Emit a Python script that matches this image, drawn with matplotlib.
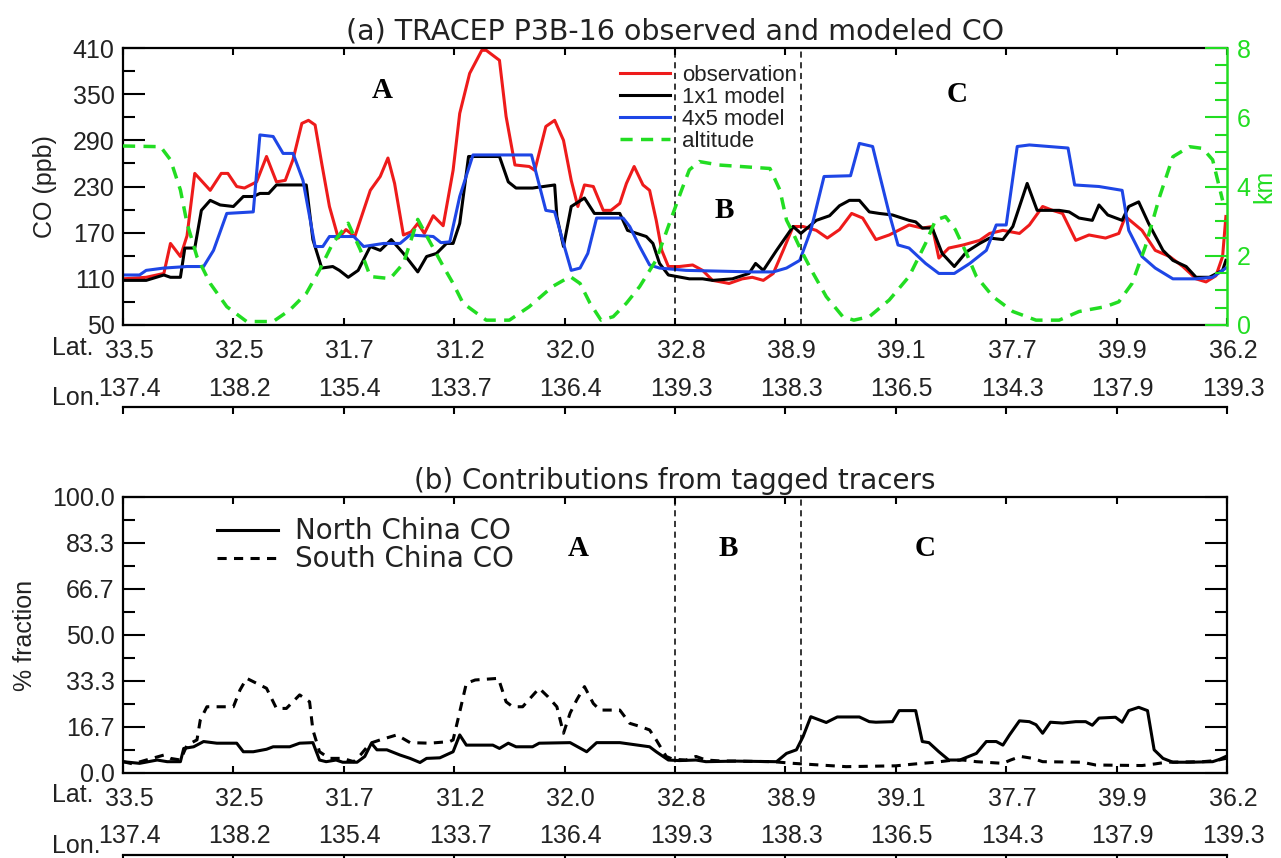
import numpy as np
import matplotlib.pyplot as plt
import matplotlib.transforms as mtransforms
from matplotlib.ticker import FixedLocator, MultipleLocator

plt.rcParams['font.family'] = ['Liberation Sans', 'DejaVu Sans']

# flight track labels, one per tick (track position 0..10)
lat_labels = ['33.5', '32.5', '31.7', '31.2', '32.0', '32.8', '38.9', '39.1', '37.7', '39.9', '36.2']
lon_labels = ['137.4', '138.2', '135.4', '133.7', '136.4', '139.3', '138.3', '136.5', '134.3', '137.9', '139.3']
region_bounds = [5.0, 6.14]

# (track position, CO ppb)
observation = [(0.00, 110), (0.21, 112), (0.37, 117), (0.43, 156), (0.52, 139), (0.58, 166), (0.65, 247),
               (0.79, 225), (0.89, 247), (0.95, 247), (1.03, 230), (1.10, 228), (1.21, 236), (1.30, 269),
               (1.39, 236), (1.47, 238), (1.54, 265), (1.62, 312), (1.68, 316), (1.74, 310), (1.80, 260),
               (1.87, 204), (1.95, 163), (2.02, 174), (2.10, 165), (2.24, 225), (2.33, 243), (2.40, 267),
               (2.46, 234), (2.54, 167), (2.61, 171), (2.67, 182), (2.73, 169), (2.81, 192), (2.90, 179),
               (2.99, 251), (3.05, 325), (3.14, 377), (3.25, 407), (3.29, 407), (3.41, 394), (3.47, 321),
               (3.55, 258), (3.68, 256), (3.73, 251), (3.83, 308), (3.91, 316), (3.99, 290), (4.06, 238),
               (4.12, 204), (4.18, 232), (4.26, 230), (4.35, 199), (4.42, 199), (4.50, 208), (4.56, 234),
               (4.63, 256), (4.71, 232), (4.77, 225), (4.83, 186), (4.88, 147), (4.94, 126), (5.04, 126),
               (5.16, 128), (5.25, 121), (5.34, 108), (5.49, 104), (5.61, 110), (5.70, 112), (5.80, 108),
               (5.89, 117), (5.98, 147), (6.07, 178), (6.16, 178), (6.28, 173), (6.38, 163), (6.49, 174),
               (6.60, 195), (6.70, 189), (6.82, 161), (6.94, 167), (7.12, 180), (7.24, 176), (7.33, 178),
               (7.39, 137), (7.48, 150), (7.61, 154), (7.76, 160), (7.85, 169), (7.97, 173), (8.12, 169),
               (8.21, 180), (8.33, 204), (8.42, 199), (8.51, 195), (8.63, 160), (8.75, 167), (8.90, 163),
               (9.02, 169), (9.08, 191), (9.23, 173), (9.35, 147), (9.48, 139), (9.60, 126), (9.72, 110),
               (9.81, 106), (9.90, 114), (9.96, 139), (9.99, 191)]

model_1x1 = [(0.00, 108), (0.21, 108), (0.37, 115), (0.43, 112), (0.52, 112), (0.56, 150), (0.65, 150),
             (0.71, 199), (0.79, 212), (0.88, 206), (1.00, 204), (1.09, 217), (1.18, 217), (1.24, 221),
             (1.32, 221), (1.39, 232), (1.66, 232), (1.72, 161), (1.80, 124), (1.90, 126), (1.96, 121),
             (2.04, 112), (2.13, 121), (2.24, 152), (2.33, 147), (2.43, 161), (2.54, 143), (2.67, 119),
             (2.75, 139), (2.84, 143), (2.93, 156), (2.99, 156), (3.05, 182), (3.13, 269), (3.41, 269),
             (3.49, 236), (3.56, 228), (3.71, 228), (3.91, 232), (3.93, 191), (3.99, 152), (4.06, 204),
             (4.18, 215), (4.27, 195), (4.50, 195), (4.57, 173), (4.74, 165), (4.80, 156), (4.86, 130),
             (4.94, 115), (5.13, 110), (5.25, 110), (5.34, 108), (5.52, 110), (5.67, 117), (5.73, 130),
             (5.80, 121), (5.92, 147), (6.07, 178), (6.14, 169), (6.28, 186), (6.40, 192), (6.49, 205),
             (6.58, 212), (6.67, 212), (6.76, 197), (6.85, 195), (6.97, 193), (7.12, 186), (7.18, 184),
             (7.24, 176), (7.33, 176), (7.42, 143), (7.53, 126), (7.64, 145), (7.76, 156), (7.85, 163),
             (7.97, 161), (8.06, 178), (8.19, 234), (8.28, 199), (8.39, 199), (8.48, 199), (8.57, 197),
             (8.66, 189), (8.78, 186), (8.84, 206), (8.92, 193), (9.05, 186), (9.11, 204), (9.20, 210),
             (9.29, 182), (9.42, 147), (9.51, 134), (9.63, 126), (9.72, 112), (9.84, 112), (9.96, 121),
             (9.99, 134)]

model_4x5 = [(0.00, 115), (0.15, 115), (0.21, 121), (0.37, 124), (0.58, 126), (0.73, 126), (0.82, 147),
             (0.94, 195), (1.18, 197), (1.24, 297), (1.36, 295), (1.45, 273), (1.54, 273), (1.63, 238),
             (1.74, 152), (1.81, 152), (1.87, 165), (2.09, 165), (2.18, 152), (2.36, 156), (2.51, 156),
             (2.60, 167), (2.81, 165), (2.88, 157), (2.96, 158), (3.05, 217), (3.17, 271), (3.70, 271),
             (3.83, 199), (3.91, 197), (3.99, 156), (4.06, 121), (4.14, 124), (4.21, 143), (4.29, 189),
             (4.53, 189), (4.59, 178), (4.68, 152), (4.77, 128), (4.86, 124), (5.10, 121), (5.70, 119),
             (5.89, 119), (6.01, 124), (6.13, 134), (6.23, 173), (6.35, 243), (6.59, 244), (6.67, 286),
             (6.79, 282), (6.85, 247), (6.94, 195), (7.02, 154), (7.12, 150), (7.27, 130), (7.39, 117),
             (7.53, 117), (7.67, 130), (7.82, 147), (7.91, 180), (8.00, 180), (8.10, 282), (8.21, 284),
             (8.56, 280), (8.62, 232), (8.84, 230), (9.05, 225), (9.11, 173), (9.23, 139), (9.35, 124),
             (9.51, 110), (9.72, 110), (9.87, 112), (9.99, 124)]

# (track position, km)
altitude = [(0.00, 5.17), (0.34, 5.15), (0.43, 4.77), (0.52, 3.90), (0.58, 2.94), (0.67, 1.97), (0.79, 1.20),
            (0.94, 0.53), (1.12, 0.10), (1.36, 0.10), (1.51, 0.43), (1.66, 0.91), (1.78, 1.59), (1.90, 2.36),
            (2.04, 2.94), (2.15, 2.17), (2.24, 1.40), (2.42, 1.34), (2.54, 1.78), (2.67, 3.05), (2.78, 2.40),
            (2.90, 1.70), (2.99, 1.20), (3.08, 0.63), (3.29, 0.14), (3.50, 0.14), (3.68, 0.53), (3.89, 1.11),
            (4.05, 1.40), (4.14, 1.20), (4.23, 0.63), (4.33, 0.14), (4.44, 0.24), (4.56, 0.63), (4.68, 1.11),
            (4.83, 1.88), (4.95, 2.94), (5.06, 3.90), (5.13, 4.48), (5.22, 4.72), (5.40, 4.62), (5.86, 4.52),
            (5.95, 3.90), (6.01, 3.03), (6.07, 2.65), (6.14, 2.17), (6.25, 1.50), (6.37, 0.82), (6.52, 0.24),
            (6.62, 0.14), (6.76, 0.24), (6.94, 0.72), (7.12, 1.40), (7.27, 2.36), (7.36, 3.03), (7.45, 3.13),
            (7.54, 2.75), (7.64, 2.07), (7.73, 1.40), (7.88, 0.82), (8.06, 0.39), (8.27, 0.14), (8.48, 0.14),
            (8.66, 0.39), (8.90, 0.53), (9.02, 0.67), (9.14, 1.20), (9.26, 2.26), (9.39, 3.71), (9.51, 4.86),
            (9.66, 5.15), (9.78, 5.10), (9.87, 4.77), (9.96, 3.60)]

# (track position, % fraction)
north_china = [(0.00, 4.1), (0.15, 3.5), (0.31, 4.7), (0.40, 4.1), (0.52, 4.1), (0.55, 8.9), (0.64, 9.5),
               (0.73, 11.4), (0.85, 10.8), (1.03, 10.8), (1.09, 7.7), (1.18, 7.7), (1.30, 8.6), (1.36, 9.5),
               (1.51, 9.5), (1.60, 10.8), (1.72, 11.0), (1.78, 4.7), (1.84, 4.1), (1.93, 4.7), (1.99, 3.9),
               (2.12, 3.9), (2.19, 6.0), (2.25, 10.8), (2.30, 8.4), (2.39, 8.4), (2.51, 6.5), (2.60, 5.3),
               (2.69, 3.8), (2.75, 5.3), (2.87, 5.5), (2.99, 7.7), (3.05, 13.8), (3.11, 10.1), (3.35, 10.1),
               (3.41, 8.9), (3.49, 10.8), (3.56, 9.5), (3.71, 9.5), (3.77, 10.8), (4.05, 11.0), (4.20, 7.7),
               (4.29, 11.0), (4.50, 11.0), (4.77, 9.5), (4.83, 7.7), (4.94, 4.7), (5.04, 4.5), (5.19, 4.7),
               (5.28, 4.1), (5.55, 4.3), (5.92, 4.1), (6.01, 7.1), (6.10, 8.4), (6.16, 13.2), (6.23, 20.4),
               (6.37, 18.3), (6.47, 20.3), (6.67, 20.3), (6.76, 18.6), (6.82, 18.4), (6.97, 18.6), (7.03, 22.6),
               (7.18, 22.6), (7.24, 11.4), (7.30, 11.0), (7.39, 7.7), (7.48, 4.7), (7.58, 4.7), (7.73, 7.1),
               (7.82, 11.4), (7.91, 11.4), (7.97, 10.1), (8.03, 13.8), (8.12, 18.9), (8.21, 18.6), (8.27, 17.5),
               (8.33, 14.4), (8.40, 18.4), (8.51, 18.1), (8.63, 18.6), (8.72, 18.6), (8.78, 17.3), (8.84, 19.9),
               (8.99, 20.2), (9.05, 18.4), (9.11, 22.6), (9.20, 23.8), (9.28, 22.6), (9.34, 8.4), (9.42, 5.3),
               (9.51, 3.9), (9.66, 3.9), (9.87, 4.1), (9.93, 4.9), (9.99, 6.0)]

south_china = [(0.00, 4.1), (0.09, 3.3), (0.21, 4.7), (0.37, 6.5), (0.43, 5.3), (0.52, 4.7), (0.58, 10.1),
               (0.67, 12.0), (0.70, 19.2), (0.76, 24.0), (1.00, 24.0), (1.06, 30.1), (1.12, 34.3), (1.21, 32.5),
               (1.30, 30.7), (1.39, 23.4), (1.48, 23.4), (1.60, 28.3), (1.69, 25.8), (1.72, 15.6), (1.78, 7.7),
               (1.87, 5.3), (1.99, 5.3), (2.09, 4.1), (2.15, 6.5), (2.24, 10.8), (2.33, 12.0), (2.48, 13.8),
               (2.60, 11.0), (2.78, 10.8), (2.96, 11.4), (2.99, 12.0), (3.04, 20.4), (3.11, 32.5), (3.19, 33.7),
               (3.40, 34.3), (3.47, 25.8), (3.53, 24.0), (3.62, 24.0), (3.70, 27.6), (3.77, 30.7), (3.85, 27.6),
               (3.93, 24.0), (3.99, 14.4), (4.05, 21.7), (4.11, 26.5), (4.18, 31.3), (4.26, 25.2), (4.32, 22.8),
               (4.50, 22.8), (4.59, 18.0), (4.68, 16.9), (4.77, 15.6), (4.83, 12.0), (4.92, 6.0), (4.98, 5.0),
               (5.10, 4.7), (5.19, 6.0), (5.28, 4.7), (5.40, 4.4), (5.89, 4.1), (6.07, 3.5), (6.31, 2.9),
               (6.55, 2.3), (6.70, 2.4), (7.00, 2.6), (7.18, 3.3), (7.36, 3.9), (7.48, 4.5), (7.61, 4.7),
               (7.73, 4.1), (7.97, 3.5), (8.04, 4.7), (8.13, 6.0), (8.24, 5.3), (8.33, 4.1), (8.69, 3.9),
               (8.81, 2.9), (9.23, 2.7), (9.35, 3.3), (9.45, 3.9), (9.78, 4.1), (9.90, 4.5), (9.99, 5.3)]

frac_ticks = [0, 100 / 6, 200 / 6, 50, 400 / 6, 500 / 6, 100]
frac_labels = ['0.0', '16.7', '33.3', '50.0', '66.7', '83.3', '100.0']


def xy(pairs):
    a = np.array(pairs, dtype=float)
    return a[:, 0], a[:, 1]


W, H = 1281, 858
fig = plt.figure(figsize=(W / 100, H / 100), dpi=100)


def box(left, top, right, bottom):
    return [left / W, 1 - bottom / H, (right - left) / W, (bottom - top) / H]


dark = '#222222'
green = '#22dd22'
wide = ['DejaVu Sans']  # titles and lower legend are set wider than the tick labels
ticks = np.arange(len(lat_labels))
shift = mtransforms.ScaledTranslation(6 / 100, 0, fig.dpi_scale_trans)


def track_axis(ax, pad):
    ax.set_xlim(0, 10)
    ax.set_xticks(ticks)
    ax.set_xticklabels(lat_labels)
    ax.tick_params(axis='x', which='major', direction='in', length=5, width=1.5,
                   top=True, pad=pad, labelsize=18, labelcolor=dark)
    for lab in ax.get_xticklabels():
        lab.set_transform(lab.get_transform() + shift)
    for s in ax.spines.values():
        s.set_linewidth(1.6)


def lon_axis(line_px, pad):
    axl = fig.add_axes(box(123, line_px, 1227, line_px + 1))
    axl.patch.set_visible(False)
    axl.set_xlim(0, 10)
    axl.set_yticks([])
    for side in ['left', 'right', 'bottom']:
        axl.spines[side].set_visible(False)
    axl.spines['top'].set_linewidth(1.6)
    axl.set_xticks(ticks)
    axl.set_xticklabels(lon_labels)
    axl.tick_params(axis='x', which='major', direction='in', length=5, width=1.5,
                    top=True, bottom=False, labeltop=True, labelbottom=False,
                    pad=pad, labelsize=18, labelcolor=dark)
    for t in axl.xaxis.get_major_ticks():
        t.label2.set_transform(t.label2.get_transform() + shift)


def side_labels(lat_base, lon_base):
    fig.text(52 / W, 1 - lat_base / H, 'Lat.', ha='left', va='baseline', fontsize=18, color=dark)
    fig.text(52 / W, 1 - lon_base / H, 'Lon.', ha='left', va='baseline', fontsize=18, color=dark)


letter = dict(fontsize=21, fontweight='bold', family='Liberation Serif', ha='center', va='center')

# ---------------- (a) ----------------
ax1 = fig.add_axes(box(123, 48, 1227, 325))
x, y = xy(observation)
l_obs, = ax1.plot(x, y, color='#ee1b1b', lw=2.2, label='observation')
x, y = xy(model_1x1)
l_1x1, = ax1.plot(x, y, color='black', lw=2.2, label='1x1 model')
x, y = xy(model_4x5)
l_4x5, = ax1.plot(x, y, color='#1e46e6', lw=2.2, label='4x5 model')
for b in region_bounds:
    ax1.axvline(b, color='black', lw=1.1, ls=(0, (4, 3)))
ax1.set_ylim(50, 410)
ax1.set_yticks(np.arange(50, 411, 60))
ax1.yaxis.set_minor_locator(FixedLocator(np.arange(80, 410, 60)))
ax1.tick_params(axis='y', which='major', direction='in', length=16, width=1.5, pad=6,
                labelsize=18, labelcolor=dark)
ax1.tick_params(axis='y', which='minor', direction='in', length=8.5, width=1.5)
ax1.spines['right'].set_visible(False)
track_axis(ax1, pad=10)
ax1.set_ylabel('CO (ppb)', fontsize=18, color=dark)
ax1.yaxis.set_label_coords(-0.060, 0.5)
ax1.set_title('(a) TRACEP P3B-16 observed and modeled CO', fontsize=20.5, family=wide,
              color=dark, pad=6)
ax1.text(2.35, 355, 'A', **letter)
ax1.text(5.45, 199, 'B', **letter)
ax1.text(7.56, 349, 'C', **letter)

ax2 = ax1.twinx()
x, y = xy(altitude)
l_alt, = ax2.plot(x, y, color=green, lw=2.5, dashes=(3.5, 2.4), label='altitude')
ax2.set_ylim(0, 8)
ax2.set_yticks([0, 2, 4, 6, 8])
ax2.yaxis.set_minor_locator(MultipleLocator(0.5))
for side in ['left', 'top', 'bottom']:
    ax2.spines[side].set_visible(False)
ax2.spines['right'].set_color(green)
ax2.spines['right'].set_linewidth(1.8)
ax2.tick_params(axis='y', which='major', direction='in', length=16, width=1.5, pad=7,
                labelsize=18, colors=green)
ax2.tick_params(axis='y', which='minor', direction='in', length=8.5, width=1.5, colors=green)
ax2.set_ylabel('km', fontsize=18, color=green)
ax2.yaxis.set_label_coords(1.023, 0.5)
ax2.legend(handles=[l_obs, l_1x1, l_4x5, l_alt], loc='upper left', bbox_to_anchor=(0.45, 0.94),
           frameon=False, fontsize=16, labelspacing=0.05, handlelength=2.25,
           handletextpad=0.55, borderpad=0, borderaxespad=0, labelcolor=dark)

lon_axis(407, pad=4)
side_labels(355, 405)

# ---------------- (b) ----------------
ax3 = fig.add_axes(box(123, 497, 1227, 773))
x, y = xy(north_china)
l_n, = ax3.plot(x, y, color='black', lw=2.2, label='North China CO')
x, y = xy(south_china)
l_s, = ax3.plot(x, y, color='black', lw=2.2, dashes=(3, 2.4), label='South China CO')
for b in region_bounds:
    ax3.axvline(b, color='black', lw=1.1, ls=(0, (4, 3)))
ax3.set_ylim(0, 100)
ax3.set_yticks(frac_ticks)
ax3.set_yticklabels(frac_labels)
ax3.yaxis.set_minor_locator(FixedLocator([v + 50 / 6 for v in frac_ticks[:-1]]))
ax3.tick_params(axis='y', which='major', direction='in', length=16, width=1.5, pad=6,
                right=True, labelsize=18, labelcolor=dark)
ax3.tick_params(axis='y', which='minor', direction='in', length=8.5, width=1.5, right=True)
track_axis(ax3, pad=10)
ax3.set_ylabel('% fraction', fontsize=18, color=dark)
ax3.yaxis.set_label_coords(-0.078, 0.5)
ax3.set_title('(b) Contributions from tagged tracers', fontsize=20, family=wide,
              color=dark, pad=6)
ax3.legend(handles=[l_n, l_s], loc='upper left', bbox_to_anchor=(0.085, 0.926),
           frameon=False, labelspacing=0.0, handlelength=2.2,
           prop={'family': wide, 'size': 20},
           handletextpad=0.6, borderpad=0, borderaxespad=0, labelcolor=dark)
ax3.text(4.12, 81.5, 'A', **letter)
ax3.text(5.48, 81.5, 'B', **letter)
ax3.text(7.27, 81.5, 'C', **letter)

lon_axis(855, pad=5)
side_labels(802, 853)

fig.savefig('out.png', dpi=100)
